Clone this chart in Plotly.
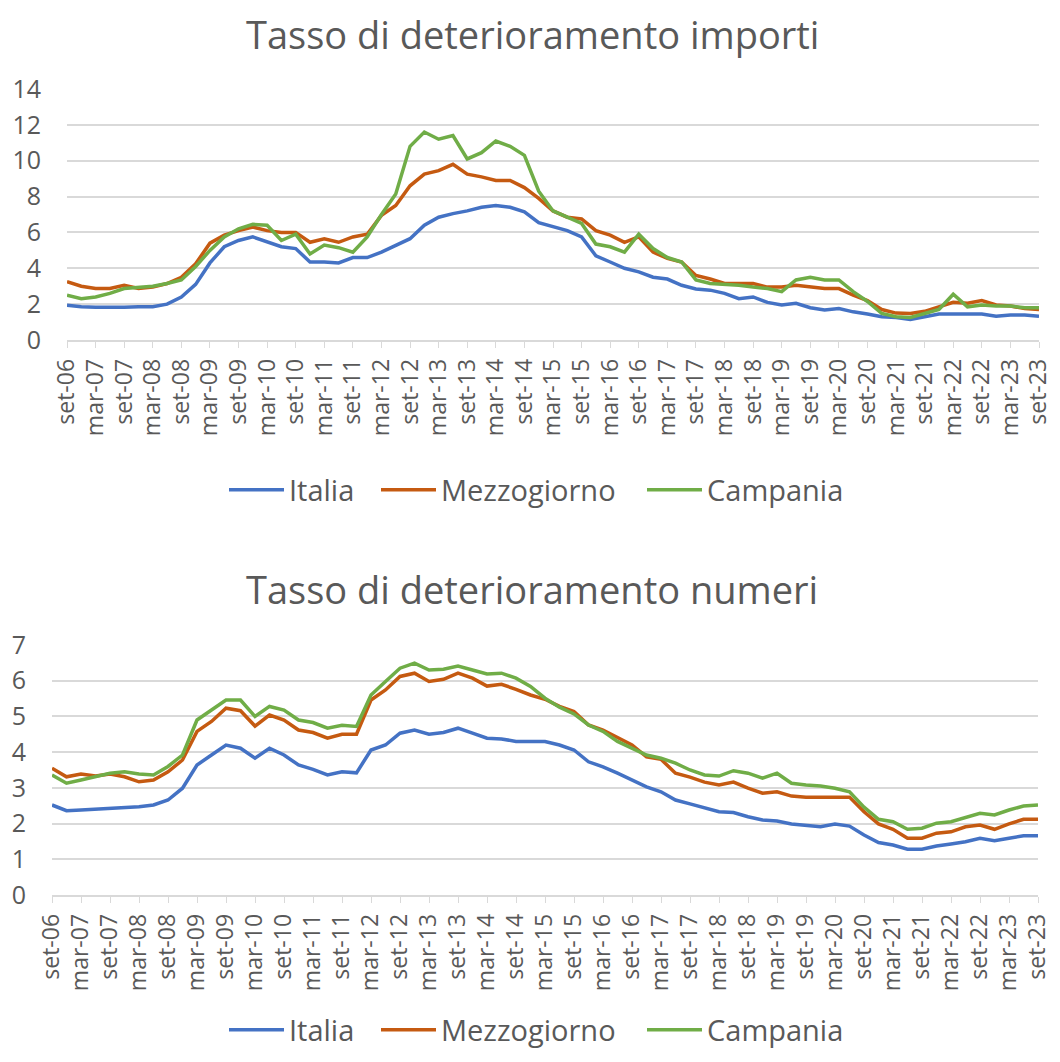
import plotly.graph_objects as go

months = ["set", "dic", "mar", "giu"]
periods = []
for k in range(69):
    m = months[k % 4]
    yr = 6 + (k + 2) // 4
    periods.append(f"{m}-{yr:02d}")

tick_labels = [p for p in periods if p.startswith("set") or p.startswith("mar")]

italia_imp = [1.94, 1.85, 1.82, 1.8, 1.82, 1.85, 1.85, 2.0, 2.4, 3.1, 4.3, 5.2, 5.55, 5.75, 5.5, 5.2, 5.1,
              4.35, 4.35, 4.3, 4.6, 4.6, 4.9, 5.3, 5.65, 6.4, 6.85, 7.05, 7.2, 7.4, 7.5, 7.4, 7.15, 6.55,
              6.3, 6.1, 5.75, 4.7, 4.35, 4.0, 3.8, 3.5, 3.4, 3.05, 2.85, 2.78, 2.6, 2.3, 2.4, 2.1, 1.95,
              2.05, 1.8, 1.67, 1.75, 1.57, 1.45, 1.3, 1.26, 1.15, 1.3, 1.45, 1.45, 1.45, 1.45, 1.33, 1.4,
              1.4, 1.33]
mezz_imp = [3.25, 3.0, 2.87, 2.87, 3.05, 2.87, 2.95, 3.15, 3.5, 4.25, 5.4, 5.85, 6.1, 6.3, 6.1, 6.0, 6.0,
            5.45, 5.65, 5.45, 5.75, 5.9, 6.95, 7.5, 8.6, 9.25, 9.45, 9.8, 9.25, 9.1, 8.9, 8.9, 8.5, 7.9,
            7.2, 6.85, 6.75, 6.1, 5.85, 5.45, 5.75, 4.9, 4.55, 4.35, 3.6, 3.4, 3.15, 3.15, 3.15, 2.95,
            2.95, 3.05, 2.95, 2.87, 2.87, 2.5, 2.2, 1.7, 1.5, 1.48, 1.6, 1.85, 2.1, 2.05, 2.2, 1.95, 1.9,
            1.75, 1.7]
camp_imp = [2.5, 2.3, 2.4, 2.6, 2.87, 2.95, 3.0, 3.15, 3.35, 4.1, 5.0, 5.75, 6.2, 6.45, 6.4, 5.55, 5.9,
            4.8, 5.3, 5.15, 4.9, 5.75, 7.0, 8.15, 10.8, 11.6, 11.2, 11.4, 10.1, 10.45, 11.1, 10.8, 10.3,
            8.3, 7.2, 6.85, 6.5, 5.35, 5.2, 4.9, 5.9, 5.1, 4.6, 4.35, 3.35, 3.15, 3.1, 3.05, 2.95, 2.87,
            2.7, 3.35, 3.5, 3.35, 3.35, 2.7, 2.15, 1.48, 1.3, 1.26, 1.48, 1.7, 2.55, 1.85, 1.95, 1.9,
            1.9, 1.8, 1.8]

italia_num = [2.52, 2.36, 2.38, 2.4, 2.43, 2.46, 2.47, 2.52, 2.66, 2.99, 3.64, 3.92, 4.2, 4.11, 3.83,
              4.11, 3.92, 3.64, 3.52, 3.36, 3.45, 3.42, 4.06, 4.2, 4.53, 4.62, 4.5, 4.55, 4.67, 4.53,
              4.39, 4.37, 4.3, 4.3, 4.3, 4.2, 4.06, 3.73, 3.59, 3.41, 3.22, 3.03, 2.89, 2.66, 2.55, 2.43,
              2.33, 2.31, 2.19, 2.1, 2.07, 1.99, 1.94, 1.91, 1.99, 1.93, 1.68, 1.47, 1.4, 1.28, 1.28,
              1.37, 1.43, 1.49, 1.59, 1.52, 1.59, 1.66, 1.66]
mezz_num = [3.55, 3.31, 3.39, 3.33, 3.39, 3.31, 3.17, 3.22, 3.45, 3.78, 4.58, 4.86, 5.23, 5.16, 4.73,
            5.04, 4.9, 4.62, 4.55, 4.39, 4.5, 4.5, 5.46, 5.74, 6.12, 6.21, 5.98, 6.04, 6.21, 6.07, 5.85,
            5.9, 5.76, 5.6, 5.48, 5.28, 5.14, 4.76, 4.62, 4.42, 4.2, 3.87, 3.8, 3.41, 3.3, 3.16, 3.08,
            3.16, 2.99, 2.85, 2.89, 2.77, 2.74, 2.74, 2.74, 2.74, 2.33, 1.99, 1.84, 1.59, 1.59, 1.73,
            1.77, 1.91, 1.96, 1.84, 1.99, 2.12, 2.12]
camp_num = [3.36, 3.13, 3.22, 3.31, 3.41, 3.45, 3.39, 3.36, 3.6, 3.92, 4.9, 5.18, 5.46, 5.46, 5.0, 5.28,
            5.18, 4.9, 4.83, 4.67, 4.75, 4.72, 5.6, 5.98, 6.35, 6.49, 6.3, 6.32, 6.41, 6.3, 6.19, 6.21,
            6.07, 5.84, 5.51, 5.26, 5.07, 4.76, 4.58, 4.3, 4.11, 3.92, 3.83, 3.69, 3.5, 3.36, 3.33, 3.48,
            3.41, 3.27, 3.41, 3.13, 3.08, 3.05, 2.99, 2.89, 2.46, 2.12, 2.05, 1.84, 1.87, 2.01, 2.05,
            2.18, 2.29, 2.24, 2.38, 2.49, 2.52]

series_names = ["Italia", "Mezzogiorno", "Campania"]
colors = ["#4472C4", "#C55A11", "#70AD47"]
titles = ["Tasso di deterioramento importi", "Tasso di deterioramento numeri"]

# the page body has an 8px margin, so the figure is drawn 8px smaller
OFF = 8
W, H = 1060 - 2 * OFF, 1062 - 2 * OFF
FONT = "Open Sans"
GREY = "#595959"
GRID = "#D9D9D9"


def px_x(p):
    return (p - OFF) / W


def px_y(p):
    return 1 - (p - OFF) / H


# legend entry left edges (window pixels) and legend row centres
legend_left = [224, 376, 642]
legend_rows = [490, 1030]

fig = go.Figure()

panels = [
    ("x", "y", [italia_imp, mezz_imp, camp_imp]),
    ("x2", "y2", [italia_num, mezz_num, camp_num]),
]
legend_layout = {}
n = 0
for pi, (xa, ya, sets) in enumerate(panels):
    for si, (name, col, vals) in enumerate(zip(series_names, colors, sets)):
        n += 1
        lname = "legend" if n == 1 else f"legend{n}"
        fig.add_trace(go.Scatter(x=periods, y=vals, name=name, mode="lines",
                                 line=dict(color=col, width=3.5), xaxis=xa, yaxis=ya,
                                 legend=lname))
        legend_layout[lname] = dict(orientation="h", x=px_x(legend_left[si]), xanchor="left",
                                    y=px_y(legend_rows[pi]), yanchor="middle",
                                    font=dict(family=FONT, size=29, color=GREY),
                                    itemwidth=55, bgcolor="rgba(0,0,0,0)", borderwidth=0)

xcommon = dict(type="category", range=[0, 68], tickmode="array", tickvals=tick_labels,
               ticktext=tick_labels, tickangle=-90, showgrid=False, showline=True,
               linecolor=GRID, linewidth=1.5, ticks="outside", ticklen=6, tickcolor=GRID,
               ticklabelstandoff=2, automargin=False,
               tickfont=dict(family=FONT, size=23, color=GREY), zeroline=False, fixedrange=True)
ycommon = dict(showgrid=True, gridcolor=GRID, gridwidth=1.5, zeroline=False, showline=False,
               ticks="", ticklabelstandoff=25, automargin=False,
               tickfont=dict(family=FONT, size=25, color=GREY), fixedrange=True)

fig.update_layout(
    width=W, height=H,
    margin=dict(l=0, r=0, t=0, b=0, autoexpand=False),
    paper_bgcolor="white", plot_bgcolor="white",
    xaxis=dict(domain=[px_x(67), px_x(1039)], anchor="y", **xcommon),
    yaxis=dict(domain=[px_y(340), px_y(89)], anchor="x", range=[0, 14], dtick=2, **ycommon),
    xaxis2=dict(domain=[px_x(52), px_x(1038)], anchor="y2", **xcommon),
    yaxis2=dict(domain=[px_y(895), px_y(645)], anchor="x2", range=[0, 7], dtick=1, **ycommon),
    showlegend=True,
    annotations=[
        dict(text=titles[0], x=px_x(532), y=px_y(34), xref="paper", yref="paper", showarrow=False,
             xanchor="center", yanchor="middle", font=dict(family=FONT, size=38, color=GREY)),
        dict(text=titles[1], x=px_x(532), y=px_y(589), xref="paper", yref="paper", showarrow=False,
             xanchor="center", yanchor="middle", font=dict(family=FONT, size=38, color=GREY)),
    ],
    **legend_layout,
)

fig.write_html("out.html")
